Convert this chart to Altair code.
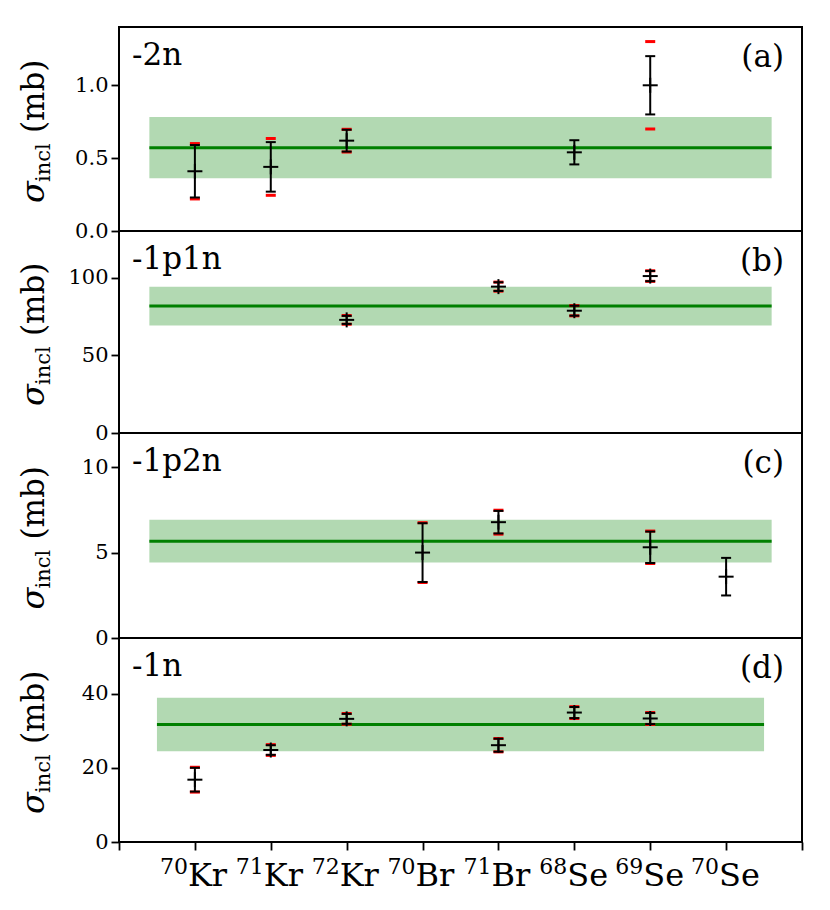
import altair as alt
import pandas as pd

FONT = "DejaVu Serif"

# ---------------- categories ----------------
iso_pos = [0, 1, 2, 3, 4, 5, 6, 7]
iso_mass = ["70", "71", "72", "70", "71", "68", "69", "70"]
iso_elem = ["Kr", "Kr", "Kr", "Br", "Br", "Se", "Se", "Se"]
x_ticks = [-1, 0, 1, 2, 3, 4, 5, 6, 7, 8]

# ---------------- panel (a) -2n ----------------
a_x = [0, 1, 2, 5, 6]
a_val = [0.41, 0.44, 0.62, 0.54, 1.00]
a_stat = [0.18, 0.17, 0.075, 0.083, 0.20]
a_sys = [0.19, 0.195, 0.078, None, 0.30]
a_mean = 0.572
a_band = 0.21

# ---------------- panel (b) -1p1n ----------------
b_x = [2, 4, 5, 6]
b_val = [72.8, 94.2, 78.7, 101.0]
b_stat = [2.6, 2.8, 3.2, 3.3]
b_sys = [2.8, 2.9, 3.3, 3.4]
b_mean = 81.7
b_band = 12.5

# ---------------- panel (c) -1p2n ----------------
c_x = [3, 4, 6, 7]
c_val = [5.0, 6.78, 5.31, 3.59]
c_stat = [1.72, 0.66, 0.92, 1.10]
c_sys = [1.75, 0.70, 0.95, None]
c_mean = 5.67
c_band = 1.25

# ---------------- panel (d) -1n ----------------
d_x = [0, 1, 2, 4, 5, 6]
d_val = [16.8, 24.8, 33.2, 26.1, 34.9, 33.3]
d_stat = [3.2, 1.3, 1.35, 1.75, 1.5, 1.5]
d_sys = [3.35, 1.45, 1.45, 1.8, 1.6, 1.6]
d_mean = 31.7
d_band = 7.2

channel_names = ["-2n", "-1p1n", "-1p2n", "-1n"]
panel_tags = ["(a)", "(b)", "(c)", "(d)"]
y_max = [1.4, 130, 12, 55]
y_ticks = [[0, 0.5, 1.0], [0, 50, 100], [0, 5, 10], [0, 20, 40]]
y_formats = [".1f", "d", "d", "d"]
band_x = [[-0.6, 7.6], [-0.6, 7.6], [-0.6, 7.6], [-0.5, 7.5]]

W = 683
HEIGHTS = [204, 202, 205, 204]


def panel(i, xs, vals, stat, sys, mean, half):
    H = HEIGHTS[i]
    bottom = i == 3
    xscale = alt.Scale(domain=[-1, 8], nice=False, zero=False)
    yscale = alt.Scale(domain=[0, y_max[i]], nice=False, zero=False)
    if bottom:
        xaxis = alt.Axis(values=x_ticks, labels=False, ticks=True, tickSize=8,
                         tickWidth=1.8, tickColor="black", domain=False,
                         grid=False, title=None)
    else:
        xaxis = None
    yaxis = alt.Axis(values=y_ticks[i], format=y_formats[i], tickSize=8,
                     tickWidth=1.8, tickColor="black", domain=False, grid=False,
                     title=None, labelFont=FONT, labelFontSize=21,
                     labelColor="black", labelPadding=3, labelFlush=False)

    def X(f):
        return alt.X(f"{f}:Q", scale=xscale, axis=xaxis)

    def Y(f):
        return alt.Y(f"{f}:Q", scale=yscale, axis=yaxis)

    lo = [v - s for v, s in zip(vals, stat)]
    hi = [v + s for v, s in zip(vals, stat)]
    pts = pd.DataFrame({"x": xs, "v": vals, "lo": lo, "hi": hi})
    caps = pd.DataFrame({"x": xs + xs, "y": lo + hi})
    rx, ry = [], []
    for x, v, s in zip(xs, vals, sys):
        if s is not None:
            rx += [x, x]
            ry += [v - s, v + s]
    red = pd.DataFrame({"x": rx, "y": ry})
    band = pd.DataFrame({"x1": [band_x[i][0]], "x2": [band_x[i][1]],
                         "y1": [mean - half], "y2": [mean + half], "m": [mean]})

    layers = [
        alt.Chart(band).mark_rect(color="green", opacity=0.3).encode(
            x=X("x1"), x2="x2", y=Y("y1"), y2="y2"),
        alt.Chart(band).mark_rule(color="green", strokeWidth=3).encode(
            x=X("x1"), x2="x2", y=Y("m")),
        alt.Chart(red).mark_tick(orient="horizontal", color="red", size=10,
                                 thickness=3, opacity=1).encode(x=X("x"), y=Y("y")),
        alt.Chart(pts).mark_rule(color="black", strokeWidth=2).encode(
            x=X("x"), y=Y("lo"), y2="hi"),
        alt.Chart(caps).mark_tick(orient="horizontal", color="black", size=10,
                                  thickness=2, opacity=1).encode(x=X("x"), y=Y("y")),
        alt.Chart(pts).mark_tick(orient="horizontal", color="black", size=15,
                                 thickness=2, opacity=1).encode(x=X("x"), y=Y("v")),
        alt.Chart(pts).mark_tick(orient="vertical", color="black", size=15,
                                 thickness=2, opacity=1).encode(x=X("x"), y=Y("v")),
    ]

    one = pd.DataFrame({"name": [channel_names[i]], "tag": [panel_tags[i]],
                        "s": ["σ"], "sub": ["incl"], "unit": ["(mb)"]})
    layers += [
        alt.Chart(one).mark_text(align="left", baseline="alphabetic", font=FONT,
                                 fontSize=31, color="black").encode(
            x=alt.value(13), y=alt.value(38), text="name:N"),
        alt.Chart(one).mark_text(align="right", baseline="alphabetic", font=FONT,
                                 fontSize=31, color="black").encode(
            x=alt.value(665), y=alt.value(40), text="tag:N"),
        # y-axis title: sigma_incl (mb)
        alt.Chart(one).mark_text(angle=270, align="left", baseline="alphabetic",
                                 font=FONT, fontStyle="italic", fontSize=32,
                                 dx=-74, color="black").encode(
            x=alt.value(-75), y=alt.value(H / 2), text="s:N"),
        alt.Chart(one).mark_text(angle=270, align="left", baseline="alphabetic",
                                 font=FONT, fontSize=21, dx=-53, dy=6,
                                 color="black").encode(
            x=alt.value(-75), y=alt.value(H / 2), text="sub:N"),
        alt.Chart(one).mark_text(angle=270, align="left", baseline="alphabetic",
                                 font=FONT, fontSize=31, dx=-4,
                                 color="black").encode(
            x=alt.value(-75), y=alt.value(H / 2), text="unit:N"),
    ]

    if bottom:
        lab = pd.DataFrame({"x": iso_pos, "m": iso_mass, "e": iso_elem})
        layers += [
            alt.Chart(lab).mark_text(align="left", baseline="alphabetic", dx=-7,
                                     font=FONT, fontSize=32, color="black").encode(
                x=X("x"), y=alt.value(H + 44), text="e:N"),
            alt.Chart(lab).mark_text(align="right", baseline="alphabetic", dx=-7,
                                     font=FONT, fontSize=22, color="black").encode(
                x=X("x"), y=alt.value(H + 32), text="m:N"),
        ]

    return alt.layer(*layers).properties(width=W, height=H)


charts = [
    panel(0, a_x, a_val, a_stat, a_sys, a_mean, a_band),
    panel(1, b_x, b_val, b_stat, b_sys, b_mean, b_band),
    panel(2, c_x, c_val, c_stat, c_sys, c_mean, c_band),
    panel(3, d_x, d_val, d_stat, d_sys, d_mean, d_band),
]

chart = alt.vconcat(*charts, spacing=0, bounds="flush").properties(
    padding={"left": 9, "top": 18, "right": 5, "bottom": 5},
    background="white",
).configure_view(stroke="black", strokeWidth=2)

chart.save("out.html", embed_options={"renderer": "svg", "actions": False})
